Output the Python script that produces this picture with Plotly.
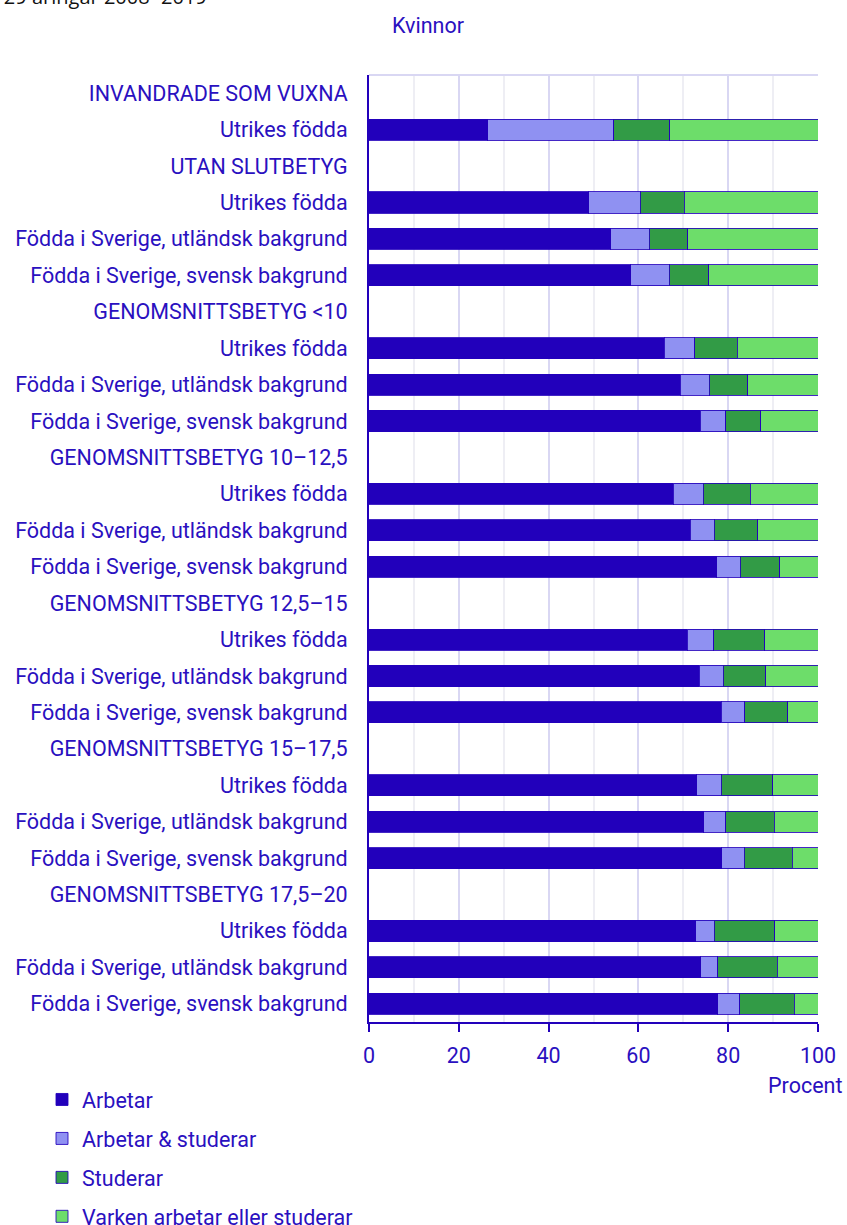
import plotly.graph_objects as go

labels = [
    "INVANDRADE SOM VUXNA", "Utrikes födda",
    "UTAN SLUTBETYG", "Utrikes födda", "Födda i Sverige, utländsk bakgrund", "Födda i Sverige, svensk bakgrund",
    "GENOMSNITTSBETYG <10", "Utrikes födda", "Födda i Sverige, utländsk bakgrund", "Födda i Sverige, svensk bakgrund",
    "GENOMSNITTSBETYG 10–12,5", "Utrikes födda", "Födda i Sverige, utländsk bakgrund", "Födda i Sverige, svensk bakgrund",
    "GENOMSNITTSBETYG 12,5–15", "Utrikes födda", "Födda i Sverige, utländsk bakgrund", "Födda i Sverige, svensk bakgrund",
    "GENOMSNITTSBETYG 15–17,5", "Utrikes födda", "Födda i Sverige, utländsk bakgrund", "Födda i Sverige, svensk bakgrund",
    "GENOMSNITTSBETYG 17,5–20", "Utrikes födda", "Födda i Sverige, utländsk bakgrund", "Födda i Sverige, svensk bakgrund",
]

arbetar = [None, 26.4, None, 48.9, 53.8, 58.3, None, 65.8, 69.3, 73.8, None, 67.8, 71.5, 77.5,
           None, 70.9, 73.5, 78.4, None, 73.0, 74.5, 78.6, None, 72.8, 73.9, 77.7]
arbetar_studerar = [None, 28.1, None, 11.5, 8.6, 8.6, None, 6.7, 6.5, 5.6, None, 6.6, 5.4, 5.2,
                    None, 5.9, 5.4, 5.3, None, 5.5, 4.9, 5.0, None, 4.1, 3.8, 4.9]
studerar = [None, 12.5, None, 9.8, 8.6, 8.8, None, 9.5, 8.5, 7.8, None, 10.5, 9.7, 8.8,
            None, 11.3, 9.5, 9.6, None, 11.4, 10.8, 10.7, None, 13.5, 13.2, 12.1]
varken = [None, 33.0, None, 29.8, 29.0, 24.3, None, 18.0, 15.7, 12.8, None, 15.1, 13.4, 8.5,
          None, 11.9, 11.6, 6.7, None, 10.1, 9.8, 5.7, None, 9.6, 9.1, 5.3]

series = [
    ("Arbetar", arbetar, "#2200BB"),
    ("Arbetar & studerar", arbetar_studerar, "#8F91F2"),
    ("Studerar", studerar, "#329B46"),
    ("Varken arbetar eller studerar", varken, "#6DDD6A"),
]

TXT = "#2A10C0"
AX = "#2200BB"
FONT = "Roboto"
FS = 21.5

ypos = list(range(len(labels)))

fig = go.Figure()
for i, (name, vals, col) in enumerate(series):
    fig.add_trace(go.Bar(
        y=ypos, x=vals, name=name, orientation="h",
        marker=dict(color=col, line=dict(color="rgba(34,0,187,0.85)", width=1)),
        legendgroup=f"g{i}",
    ))

fig.update_layout(
    barmode="stack",
    bargap=0.42,
    width=847, height=1225,
    margin=dict(l=369, r=29, t=75, b=203, autoexpand=False),
    plot_bgcolor="white", paper_bgcolor="white",
    font=dict(family=FONT, color=TXT, size=FS),
    showlegend=True,
    legend=dict(
        x=(42 - 369) / 449, xanchor="left",
        y=(1022 - 1079) / 947, yanchor="top",
        orientation="v", traceorder="grouped",
        tracegroupgap=8,
        font=dict(family=FONT, size=FS, color=TXT),
        bgcolor="rgba(0,0,0,0)",
    ),
    xaxis=dict(
        range=[0, 100], dtick=20, tick0=0,
        showgrid=True, gridcolor="#D9D7F3", gridwidth=1.5,
        minor=dict(dtick=10, showgrid=True, gridcolor="#EEEEF4", gridwidth=1.5),
        showline=True, linecolor=AX, linewidth=2,
        ticks="outside", ticklen=8, tickcolor=AX, tickwidth=2,
        ticklabelstandoff=5,
        tickfont=dict(family=FONT, size=FS, color=TXT),
        zeroline=False, fixedrange=True,
    ),
    yaxis=dict(
        tickmode="array", tickvals=ypos, ticktext=labels,
        range=[len(labels) - 0.5, -0.5],
        showgrid=False, zeroline=False,
        showline=True, linecolor=AX, linewidth=2,
        ticks="", ticklabelstandoff=15,
        tickfont=dict(family=FONT, size=FS, color=TXT),
        fixedrange=True,
    ),
    shapes=[dict(type="line", xref="paper", yref="paper", x0=0, x1=1, y0=1, y1=1,
                 line=dict(color="#D9D7F3", width=2))],
    annotations=[
        dict(text="Kvinnor", xref="paper", yref="paper", x=(428 - 369) / 449, y=(1022 - 25) / 947,
             xanchor="center", yanchor="middle", showarrow=False,
             font=dict(family=FONT, size=FS, color=TXT)),
        dict(text="Procent", xref="paper", yref="paper", x=(844 - 369) / 449, y=(1022 - 1085) / 947,
             xanchor="right", yanchor="middle", showarrow=False,
             font=dict(family=FONT, size=FS, color=TXT)),
        dict(text="20–29 åringar 2008−2019", xref="paper", yref="paper", x=(209 - 369) / 449,
             y=(1022 + 4) / 947, xanchor="right", yanchor="middle", showarrow=False,
             font=dict(family="Open Sans", size=20, color="#111111")),
    ],
)

fig.write_html("out.html", config={"displayModeBar": False},
               post_script="document.body.style.margin='0';")
